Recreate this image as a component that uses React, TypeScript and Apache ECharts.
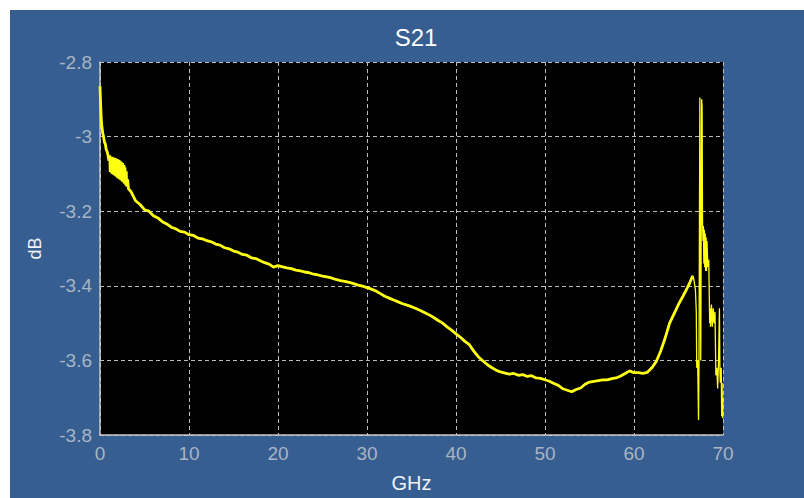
import React, { useEffect, useRef } from "react";
import * as echarts from "echarts";

// S21 magnitude (dB) versus frequency (GHz)
const lowBand: [number, number][] = [
  [0, -2.865], [0.05, -2.9], [0.1, -2.93], [0.15, -2.955], [0.2, -2.97], [0.3, -2.99],
  [0.4, -3.0], [0.5, -3.015], [0.6, -3.02], [0.7, -3.035], [0.8, -3.04], [0.9, -3.05],
  [1.0, -3.065], [1.1, -3.05], [1.15, -3.095], [1.2, -3.055], [1.3, -3.098], [1.35, -3.054],
  [1.4, -3.1], [1.5, -3.056], [1.55, -3.103], [1.6, -3.057], [1.7, -3.105], [1.75, -3.058],
  [1.8, -3.107], [1.9, -3.06], [1.95, -3.11], [2.0, -3.061], [2.1, -3.112], [2.15, -3.063],
  [2.2, -3.114], [2.3, -3.066], [2.35, -3.117], [2.4, -3.068], [2.5, -3.12], [2.55, -3.071],
  [2.6, -3.122], [2.7, -3.076], [2.75, -3.126], [2.8, -3.083], [2.9, -3.13], [2.95, -3.093],
  [3.0, -3.134], [3.1, -3.115], [3.2, -3.14],
];

const midBand: [number, number][] = [
  [3.5, -3.148], [4.0, -3.172], [4.5, -3.182], [5.0, -3.196], [5.5, -3.2], [6.0, -3.212],
  [6.5, -3.218], [7.0, -3.228], [7.5, -3.234], [8.0, -3.243], [8.5, -3.247], [9.0, -3.254],
  [9.5, -3.256], [10, -3.263], [10.5, -3.265], [11, -3.272], [11.5, -3.274], [12, -3.279],
  [12.5, -3.282], [13, -3.288], [13.5, -3.291], [14, -3.298], [14.5, -3.301], [15, -3.307],
  [15.5, -3.31], [16, -3.316], [16.5, -3.318], [17, -3.325], [17.5, -3.327], [18, -3.333],
  [18.5, -3.338], [19, -3.342], [19.5, -3.35], [20, -3.346], [20.5, -3.349], [21, -3.352],
  [21.5, -3.354], [22, -3.358], [22.5, -3.36], [23, -3.363], [23.5, -3.365], [24, -3.369],
  [24.5, -3.371], [25, -3.374], [25.5, -3.376], [26, -3.379], [26.5, -3.383], [27, -3.386],
  [27.5, -3.388], [28, -3.391], [28.5, -3.394], [29, -3.398], [29.5, -3.401], [30, -3.405],
  [30.5, -3.409], [31, -3.414], [31.5, -3.421], [32, -3.428], [32.5, -3.433], [33, -3.438],
  [33.5, -3.443], [34, -3.448], [34.5, -3.452], [35, -3.456], [35.5, -3.461], [36, -3.466],
  [36.5, -3.472], [37, -3.478], [37.5, -3.485], [38, -3.493], [38.5, -3.5], [39, -3.51],
  [39.5, -3.519], [40, -3.529], [40.5, -3.538], [41, -3.549], [41.5, -3.558], [42, -3.575],
  [42.5, -3.59], [43, -3.601], [43.5, -3.611], [44, -3.619], [44.5, -3.626], [45, -3.631],
  [45.5, -3.634], [46, -3.637], [46.5, -3.635], [47, -3.64], [47.5, -3.638], [48, -3.643],
  [48.5, -3.641], [49, -3.647], [49.5, -3.648], [50, -3.652], [50.5, -3.656], [51, -3.662],
  [51.5, -3.667], [52, -3.676], [52.5, -3.68], [53, -3.684], [53.5, -3.678], [54, -3.674],
  [54.5, -3.664], [55, -3.658], [55.5, -3.656], [56, -3.654], [56.5, -3.652], [57, -3.652],
  [57.5, -3.649], [58, -3.647], [58.5, -3.642], [59, -3.635], [59.5, -3.628], [60, -3.633],
  [60.5, -3.633], [61, -3.635], [61.5, -3.632], [62, -3.62], [62.5, -3.603], [63, -3.575],
  [63.5, -3.54], [64, -3.5], [64.5, -3.475], [65, -3.45], [65.5, -3.428], [66, -3.405],
  [66.3, -3.39], [66.6, -3.373],
];

const highBand: [number, number][] = [
  [66.6, -3.373], [66.7, -3.38], [66.8, -3.395], [66.9, -3.41], [67.0, -3.47], [67.05, -3.62],
  [67.15, -3.6], [67.25, -3.76], [67.3, -3.62], [67.4, -2.895], [67.5, -3.6], [67.6, -2.9],
  [67.65, -2.92], [67.7, -3.23], [67.75, -3.28], [67.8, -3.24], [67.85, -3.34], [67.9, -3.25],
  [67.95, -3.35], [68.0, -3.26], [68.05, -3.36], [68.1, -3.27], [68.15, -3.36], [68.2, -3.28],
  [68.3, -3.35], [68.4, -3.33], [68.5, -3.5], [68.55, -3.46], [68.6, -3.51], [68.7, -3.45],
  [68.8, -3.51], [68.9, -3.46], [69.0, -3.5], [69.1, -3.47], [69.2, -3.64], [69.3, -3.62],
  [69.4, -3.675], [69.5, -3.6], [69.6, -3.46], [69.65, -3.62], [69.7, -3.66], [69.8, -3.62],
  [69.85, -3.75], [69.9, -3.66], [69.95, -3.755], [70.0, -3.7],
];

const xTicks = { min: 0, max: 70, interval: 10 };
const yTicks = { min: -3.8, max: -2.8, interval: 0.2 };

const FONT = "'Liberation Sans', Arial, sans-serif";
const LINE = "#ffff14";
const GRID = "#bdbdbd";
const TICK_TEXT = "#a9b4c4";

export default function App() {
  const ref = useRef<HTMLDivElement>(null);
  useEffect(() => {
    if (!ref.current) return;
    const chart = echarts.init(ref.current, undefined, { renderer: "svg" });
    chart.setOption({
      animation: false,
      backgroundColor: "#365e91",
      title: {
        text: "S21",
        left: 401,
        top: 10,
        textAlign: "center",
        textStyle: { color: "#ffffff", fontSize: 24, fontWeight: "normal", fontFamily: FONT },
      },
      grid: {
        left: 90,
        top: 52,
        right: 81,
        bottom: 61,
        show: true,
        backgroundColor: "#000000",
        borderWidth: 0,
      },
      xAxis: {
        type: "value",
        ...xTicks,
        name: "GHz",
        nameLocation: "middle",
        nameGap: 38,
        nameTextStyle: { color: "#eef2f7", fontSize: 20, fontFamily: FONT },
        axisLine: { show: true, onZero: false, lineStyle: { color: "#c8c8c8", width: 1.5 } },
        axisTick: { show: false },
        axisLabel: { color: TICK_TEXT, fontSize: 19, fontFamily: FONT, margin: 9 },
        splitLine: { show: true, lineStyle: { color: GRID, type: [4, 3], width: 1 } },
      },
      yAxis: {
        type: "value",
        ...yTicks,
        name: "dB",
        nameLocation: "middle",
        nameGap: 56,
        nameTextStyle: { color: "#eef2f7", fontSize: 18, fontFamily: FONT },
        axisLine: { show: true, onZero: false, lineStyle: { color: "#c8c8c8", width: 1.5 } },
        axisTick: { show: false },
        axisLabel: { color: TICK_TEXT, fontSize: 19, fontFamily: FONT, margin: 8 },
        splitLine: { show: true, lineStyle: { color: GRID, type: [4, 3], width: 1 } },
      },
      series: [
        {
          type: "line",
          data: [...lowBand, ...midBand],
          showSymbol: false,
          symbol: "none",
          lineStyle: { color: LINE, width: 2.8 },
          silent: true,
        },
        {
          type: "line",
          data: highBand,
          showSymbol: false,
          symbol: "none",
          lineStyle: { color: LINE, width: 1.3 },
          silent: true,
        },
      ],
    });
    return () => chart.dispose();
  }, []);
  return (
    <div
      ref={ref}
      style={{ position: "absolute", left: 10, top: 10, width: 794, height: 488 }}
    />
  );
}
